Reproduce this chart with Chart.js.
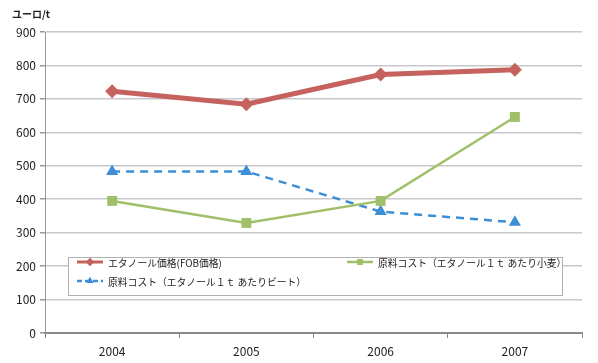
<!DOCTYPE html>
<html lang="ja">
<head>
<meta charset="UTF-8">
<title>エタノール価格と原料コスト</title>
<script src="https://cdn.jsdelivr.net/npm/chart.js"></script>
<style>
    body { margin: 0; background: #fff; }
    .caixa { width: 598px; height: 363px; position: relative; }
</style>
</head>
<body>
<div class="caixa"><canvas id="grafico"></canvas></div>
<script>
    const anos = ['2004', '2005', '2006', '2007'];
    const precoEtanol = [723, 684, 773, 787];
    const custoTrigo = [395, 329, 395, 646];
    const custoBeterraba = [483, 483, 363, 331];
    const ticksY = [0, 100, 200, 300, 400, 500, 600, 700, 800, 900];

    const nomes = ['エタノール価格(FOB価格)', '原料コスト（エタノール１ｔ あたり小麦）', '原料コスト（エタノール１ｔ あたりビート）'];
    const cores = ['#C6625D', '#9FBF68', '#3D8ED6'];
    const fonte = '"Noto Sans CJK JP", "Noto Sans", sans-serif';

    // legenda dentro da area do grafico + titulo do eixo
    const legendaPlugin = {
        id: 'legendaInterna',
        afterDraw(chart) {
            const ctx = chart.ctx;
            ctx.save();
            ctx.font = 'bold 10px ' + fonte;
            ctx.fillStyle = '#222';
            ctx.textBaseline = 'middle';
            ctx.fillText('ユーロ/t', 12, 14);

            ctx.fillStyle = '#fff';
            ctx.fillRect(68.5, 257.5, 494, 38);
            ctx.strokeStyle = '#b0b0b0';
            ctx.lineWidth = 1;
            ctx.strokeRect(68.5, 257.5, 494, 38);

            const itens = [
                { x: 77, y: 262, ds: 0 },
                { x: 347, y: 262, ds: 1 },
                { x: 77, y: 281, ds: 2 }
            ];
            itens.forEach(it => {
                const d = chart.data.datasets[it.ds];
                ctx.strokeStyle = d.borderColor;
                ctx.lineWidth = it.ds == 0 ? 3 : 2.5;
                ctx.setLineDash(it.ds == 2 ? [5, 3] : []);
                ctx.beginPath();
                ctx.moveTo(it.x, it.y);
                ctx.lineTo(it.x + 26, it.y);
                ctx.stroke();
                ctx.setLineDash([]);
                ctx.fillStyle = d.borderColor;
                ctx.beginPath();
                Chart.helpers.drawPoint(ctx, { pointStyle: d.pointStyle, radius: 4, borderWidth: 0 }, it.x + 13, it.y);
                ctx.fill();
                ctx.fillStyle = '#222';
                ctx.font = '9.8px ' + fonte;
                ctx.fillText(d.label, it.x + 31, it.y + 1);
            });
            ctx.restore();
        }
    };

    const dados = {
        labels: anos,
        datasets: [
            {
                label: nomes[0],
                data: precoEtanol,
                borderColor: cores[0],
                backgroundColor: cores[0],
                borderWidth: 5,
                pointStyle: 'rectRot',
                pointRadius: 7,
                pointBorderWidth: 0
            },
            {
                label: nomes[1],
                data: custoTrigo,
                borderColor: cores[1],
                backgroundColor: cores[1],
                borderWidth: 2.5,
                pointStyle: 'rect',
                pointRadius: 7,
                pointBorderWidth: 0
            },
            {
                label: nomes[2],
                data: custoBeterraba,
                borderColor: cores[2],
                backgroundColor: cores[2],
                borderWidth: 2.5,
                borderDash: [8, 6],
                pointStyle: 'triangle',
                pointRadius: 7,
                pointBorderWidth: 0
            }
        ]
    };

    const config = {
        type: 'line',
        data: dados,
        options: {
            responsive: true,
            maintainAspectRatio: false,
            animation: false,
            layout: { padding: { top: 32, right: 16, left: 0, bottom: 0 } },
            plugins: {
                legend: { display: false },
                tooltip: { enabled: false }
            },
            scales: {
                x: {
                    offset: true,
                    afterFit(scale) { scale.height = 30; },
                    grid: {
                        offset: true,
                        drawOnChartArea: false,
                        drawTicks: true,
                        tickLength: 5,
                        color: '#888'
                    },
                    border: { color: '#8a8a8a', width: 2 },
                    ticks: {
                        color: '#222',
                        font: { family: fonte, size: 12 },
                        padding: 6
                    }
                },
                y: {
                    min: 0,
                    max: 900,
                    afterFit(scale) { scale.width = 45; },
                    afterBuildTicks(scale) { scale.ticks = ticksY.map(v => ({ value: v })); },
                    grid: {
                        color: '#c8c8cc',
                        lineWidth: 1.5,
                        tickLength: 5,
                        tickColor: '#999'
                    },
                    border: { color: '#999', width: 1 },
                    ticks: {
                        color: '#222',
                        font: { family: fonte, size: 12 },
                        padding: 4
                    }
                }
            }
        },
        plugins: [legendaPlugin]
    };

    const grafico = new Chart(document.getElementById('grafico'), config);
</script>
</body>
</html>
